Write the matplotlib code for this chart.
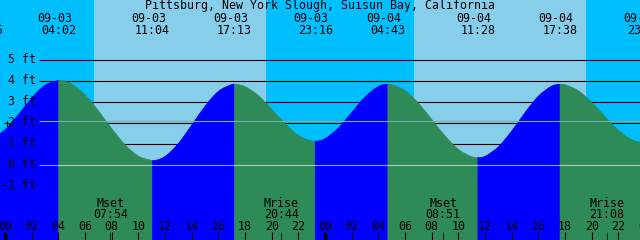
import matplotlib
matplotlib.use("Agg")
import matplotlib.pyplot as plt
from matplotlib.path import Path
from matplotlib.patches import PathPatch
import numpy as np

title = "Pittsburg, New York Slough, Suisun Bay, California"

# Tide extremes (labels at top)
tide_dates = ["09-02", "09-03", "09-03", "09-03", "09-03", "09-04", "09-04", "09-04", "09-04"]
tide_times = ["22:35", "04:02", "11:04", "17:13", "23:16", "04:43", "11:28", "17:38", "23:58"]
tide_heights = [1.20, 4.02, 0.20, 3.83, 1.12, 3.83, 0.34, 3.83, 1.05]
tide_kinds = ["L", "H", "L", "H", "L", "H", "L", "H", "L"]

# Water level, hourly (hours after 09-03 00:00)
hour_marks = list(range(-1, 49))
hourly_levels = [1.25, 1.66, 2.38, 3.17, 3.78, 4.02, 3.84, 3.33, 2.57, 1.72,
                 0.95, 0.41, 0.20, 0.39, 1.01, 1.88, 2.78, 3.49, 3.82, 3.72,
                 3.29, 2.64, 1.96, 1.40, 1.13, 1.24, 1.74, 2.48, 3.22, 3.72,
                 3.81, 3.53, 2.93, 2.16, 1.37, 0.73, 0.38, 0.40, 0.85, 1.60,
                 2.48, 3.26, 3.74, 3.81, 3.52, 2.97, 2.29, 1.65, 1.20, 1.06]

# Moon events (labels at bottom)
moon_dates = ["09-03", "09-03", "09-04", "09-04"]
moon_times = ["07:54", "20:44", "08:51", "21:08"]
moon_names = ["Mset", "Mrise", "Mset", "Mrise"]

# Sun events (day/night background)
sun_dates = ["09-03", "09-03", "09-04", "09-04"]
sun_times = ["06:40", "19:35", "06:40", "19:35"]
sun_kinds = ["rise", "set", "rise", "set"]

depth_levels = [5, 4, 3, 2, 1, 0, -1]
msl_level = 2.1
datum_level = 0

# ---------------------------------------------------------------
W, H = 640, 240
X0, X1 = -0.375, 47.625
PX_FT = 21.0
Y_TOP = 164.7 / PX_FT
Y_BOT = -(H - 164.7) / PX_FT

def to_hours(d, t):
    day = int(d.split("-")[1]) - 3
    hh, mm = t.split(":")
    return day * 24 + int(hh) + int(mm) / 60.0

def px2h(x):
    return X0 + x * (X1 - X0) / W

def py2ft(y):
    return Y_TOP - y * (Y_TOP - Y_BOT) / H

BLUE_NIGHT = "#00BFFF"
BLUE_DAY = "#87CEEB"
RISE = "#0000FF"
FALL = "#2E8B57"
FONT = dict(family="DejaVu Sans Mono", fontsize=8.4, color="black")

fig = plt.figure(figsize=(6.4, 2.4), dpi=100)
ax = fig.add_axes([0, 0, 1, 1])
ax.set_xlim(X0, X1)
ax.set_ylim(Y_BOT, Y_TOP)
ax.axis("off")
ax.add_patch(plt.Rectangle((X0, Y_BOT), X1 - X0, Y_TOP - Y_BOT,
                           color=BLUE_NIGHT, zorder=0, lw=0))

sun_h = [to_hours(d, t) for d, t in zip(sun_dates, sun_times)]
for i, k in enumerate(sun_kinds):
    if k == "rise":
        end = sun_h[i + 1] if i + 1 < len(sun_h) else X1
        ax.axvspan(sun_h[i], end, color=BLUE_DAY, lw=0, zorder=1)

# depth lines (behind water)
ax.hlines(depth_levels, px2h(39), X1, color="black", lw=0.8, zorder=2)

# water: smooth curve through readings, horizontal tangent at extremes
ev_h = [to_hours(d, t) for d, t in zip(tide_dates, tide_times)]
T = np.array(hour_marks + ev_h, dtype=float)
Hh = np.array(hourly_levels + tide_heights, dtype=float)
is_ev = np.array([False] * len(hour_marks) + [True] * len(ev_h))
order = np.argsort(T)
T, Hh, is_ev = T[order], Hh[order], is_ev[order]
n = len(T)
slope = np.zeros(n)
for i in range(n):
    if is_ev[i]:
        slope[i] = 0.0
    else:
        a, b = max(i - 1, 0), min(i + 1, n - 1)
        slope[i] = (Hh[b] - Hh[a]) / (T[b] - T[a])

def water_patch(i0, i1, col):
    verts = [(T[i0], Y_BOT), (T[i0], Hh[i0])]
    codes = [Path.MOVETO, Path.LINETO]
    for i in range(i0, i1):
        dx = T[i + 1] - T[i]
        verts += [(T[i] + dx / 3, Hh[i] + slope[i] * dx / 3),
                  (T[i + 1] - dx / 3, Hh[i + 1] - slope[i + 1] * dx / 3),
                  (T[i + 1], Hh[i + 1])]
        codes += [Path.CURVE4] * 3
    verts += [(T[i1], Y_BOT), (T[i0], Y_BOT)]
    codes += [Path.LINETO, Path.CLOSEPOLY]
    ax.add_patch(PathPatch(Path(verts, codes), facecolor=col, edgecolor=col,
                           lw=0.5, zorder=3))

ev_idx = [i for i in range(n) if is_ev[i]]
cuts = [0] + ev_idx + [n - 1]
kinds_next = tide_kinds + ["H"]
for k in range(len(cuts) - 1):
    i0, i1 = cuts[k], cuts[k + 1]
    if i1 <= i0:
        continue
    col = RISE if kinds_next[k] == "H" else FALL
    water_patch(i0, i1, col)

# MSL and datum lines
ax.hlines(msl_level, px2h(39), X1, color="#6FB0A8", lw=0.8, zorder=4)
ax.hlines(datum_level, px2h(39), X1, color="white", alpha=0.6, lw=0.8, zorder=4)

# depth labels
for lv in depth_levels:
    ax.text(px2h(36), lv - 3.6 / PX_FT, f"{lv} ft", ha="right", va="baseline",
            zorder=6, **FONT)
ax.text(px2h(7), py2ft(128), "+", ha="center", va="baseline", zorder=6, **FONT)

# title
ax.text(px2h(320), py2ft(9), title, ha="center", va="baseline", zorder=6, **FONT)

# tide labels
for d, t, h in zip(tide_dates, tide_times, ev_h):
    ax.text(h - 4 * (X1 - X0) / W, py2ft(21.7), d, ha="center", va="baseline",
            zorder=6, **FONT)
    ax.text(h, py2ft(34), t, ha="center", va="baseline", zorder=6, **FONT)

# moon labels
for d, t, nm in zip(moon_dates, moon_times, moon_names):
    h = to_hours(d, t)
    ax.text(h, py2ft(206.7), nm, ha="center", va="baseline", zorder=6, **FONT)
    ax.text(h, py2ft(218.3), t, ha="center", va="baseline", zorder=6, **FONT)
    ax.vlines(h, py2ft(240), py2ft(232), color="#222222", lw=0.7, zorder=6)

# hour ticks and labels
for hr in range(0, 49, 2):
    lw = 2.4 if hr % 24 == 0 else 0.8
    ax.vlines(hr, py2ft(240), py2ft(232), color="black", lw=lw, zorder=6)
    ax.text(hr, py2ft(230), f"{hr % 24:02d}", ha="center", va="baseline",
            zorder=6, **FONT)

fig.savefig("out.png", dpi=100)
